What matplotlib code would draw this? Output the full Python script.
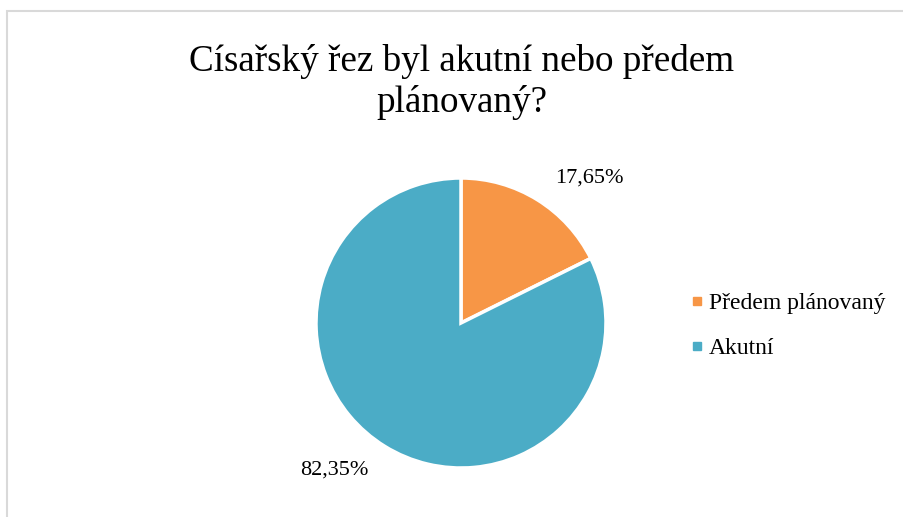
import matplotlib
matplotlib.use("Agg")
import matplotlib.pyplot as plt
from matplotlib.patches import Rectangle
from matplotlib.lines import Line2D

categories = ["Předem plánovaný", "Akutní"]
values = [17.65, 82.35]
labels = ["17,65%", "82,35%"]
colors = ["#F79646", "#4BACC6"]
title = "Císařský řez byl akutní nebo předem\nplánovaný?"

plt.rcParams['font.family'] = ['Liberation Serif', 'DejaVu Serif']

W, H = 904, 517
fig = plt.figure(figsize=(W/100, H/100), dpi=100)
fig.patch.set_facecolor("white")

# chart border
fig.add_artist(Rectangle((7/W, -0.1), 1.2, 1 - 11/H + 0.1, transform=fig.transFigure,
                         fill=False, edgecolor="#D9D9D9", linewidth=1.5))

cx, cy, r = 461, 323, 145
ax = fig.add_axes([(cx - r)/W, (H - cy - r)/H, 2*r/W, 2*r/H])
wedges, _ = ax.pie(values, colors=colors, startangle=90, counterclock=False,
                   wedgeprops=dict(edgecolor="white", linewidth=2.5))
ax.set_aspect("equal")
ax.set_xlim(-1, 1); ax.set_ylim(-1, 1)

fig.text(589/W, 1 - 178/H, labels[0], ha="center", va="center", fontsize=16)
fig.text(334/W, 1 - 470/H, labels[1], ha="center", va="center", fontsize=16)

fig.text(462/W, 1 - 82/H, title, ha="center", va="center", fontsize=26.7, linespacing=1.25)

handles = [Line2D([], [], marker="s", linestyle="none", markersize=6, color=c) for c in colors]
fig.legend(handles, categories, loc="center left", bbox_to_anchor=(690/W, 1 - 326/H),
           frameon=False, fontsize=17, handletextpad=0.2, labelspacing=1.0, handlelength=0.6,
           borderpad=0, borderaxespad=0)

fig.savefig("out.png", dpi=100)
